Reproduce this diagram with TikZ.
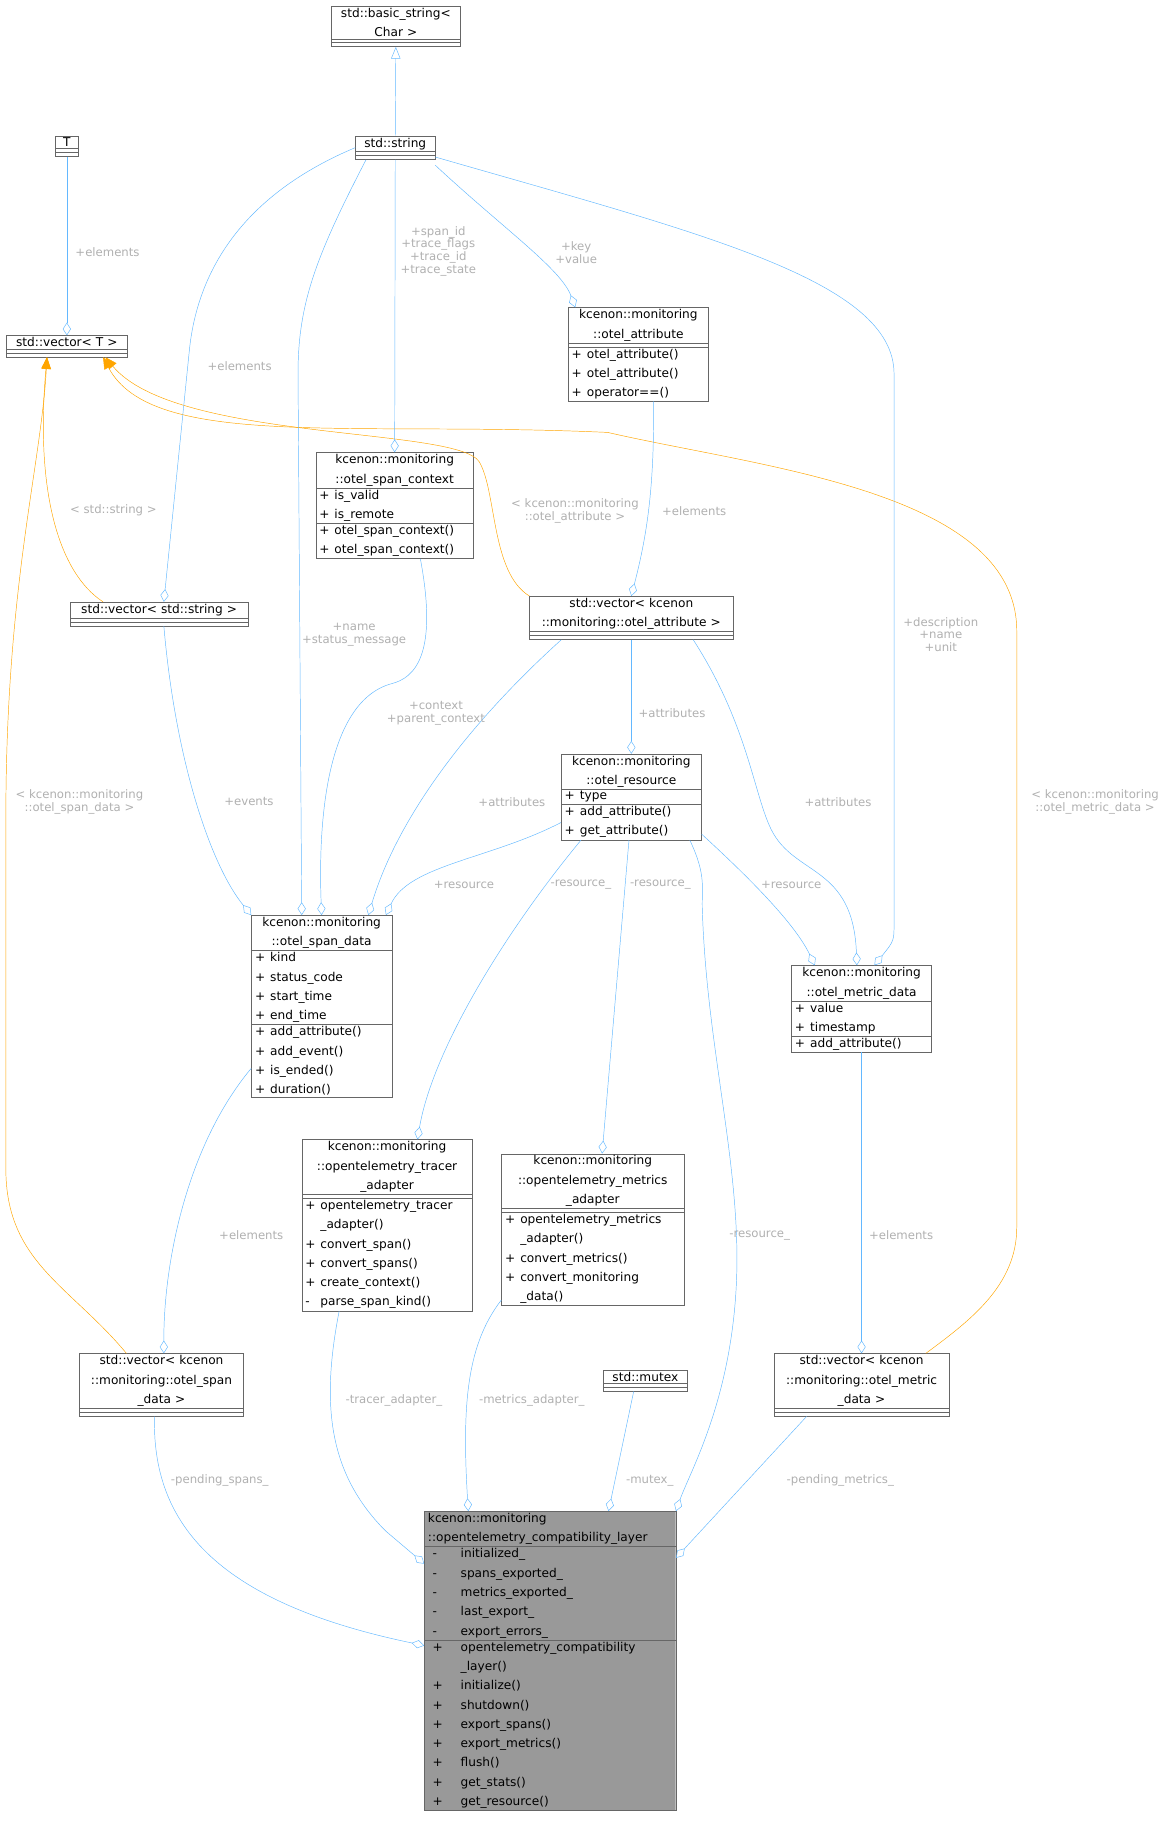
\documentclass[tikz,border=0pt]{standalone}
\usepackage{fontspec}
\setmainfont{DejaVu Sans}
\usetikzlibrary{shapes.multipart,arrows.meta}
\definecolor{edgeblue}{HTML}{63B8FF}
\definecolor{edgeorange}{HTML}{FFA500}
\definecolor{lblgray}{HTML}{B0B0B0}
\newcommand{\mb}[2]{\makebox[13pt][l]{#1}#2\par}
\newcommand{\mw}[2]{\makebox[28pt][l]{\hspace{4pt}#1}#2\par}
\newcommand{\ttl}[1]{\centering #1\par}
\tikzset{
  cls/.style={rectangle split, rectangle split parts=3, draw=gray!80!black, fill=white,
    font=\fontsize{10.4}{16.5}\selectfont, inner xsep=3pt, inner ysep=1.5pt, anchor=north west,
    rectangle split empty part height=10pt},
  agg/.style={draw=edgeblue, -{Diamond[open,length=11pt,width=7pt]}},
  inh/.style={draw=edgeblue, -{Triangle[open,length=10pt,width=8pt]}},
  tmpl/.style={draw=edgeorange, -{Triangle[length=10pt,width=8pt]}},
  lbl/.style={font=\fontsize{10}{11}\selectfont, text=lblgray, align=center, inner sep=1pt}
}
\begin{document}
\begin{tikzpicture}[x=1pt,y=-1pt]
\useasboundingbox (0,0) rectangle (1000,1565);
% classes
\node[cls, text width=105pt] (basicstr) at (283,5) {\ttl{std::basic\_string<\\Char >}\nodepart{two}\nodepart{three}};
\node[cls, text width=62pt] (str) at (304,116) {\ttl{std::string}\nodepart{two}\nodepart{three}};
\node[cls, text width=14pt] (T) at (47,116) {\ttl{T}\nodepart{two}\nodepart{three}};
\node[cls, text width=98pt] (vecT) at (5,287) {\ttl{std::vector< T >}\nodepart{two}\nodepart{three}};
\node[cls, text width=114pt] (attr) at (486,263) {\ttl{kcenon::monitoring\\::otel\_attribute}\nodepart{two}\nodepart{three}\raggedright
  \mb{+}{otel\_attribute()}\mb{+}{otel\_attribute()}\mb{+}{operator==()}};
\node[cls, text width=129pt] (spanctx) at (270,387) {\ttl{kcenon::monitoring\\::otel\_span\_context}\nodepart{two}\raggedright
  \mb{+}{is\_valid}\mb{+}{is\_remote}\nodepart{three}\raggedright
  \mb{+}{otel\_span\_context()}\mb{+}{otel\_span\_context()}};
\node[cls, text width=146pt] (vecstr) at (60,515) {\ttl{std::vector< std::string >}\nodepart{two}\nodepart{three}};
\node[cls, text width=168pt] (vecattr) at (453,510) {\ttl{std::vector< kcenon\\::monitoring::otel\_attribute >}\nodepart{two}\nodepart{three}};
\node[cls, text width=114pt] (res) at (480,645) {\ttl{kcenon::monitoring\\::otel\_resource}\nodepart{two}\raggedright
  \mb{+}{type}\nodepart{three}\raggedright
  \mb{+}{add\_attribute()}\mb{+}{get\_attribute()}};
\node[cls, text width=114pt] (spandata) at (215,783) {\ttl{kcenon::monitoring\\::otel\_span\_data}\nodepart{two}\raggedright
  \mb{+}{kind}\mb{+}{status\_code}\mb{+}{start\_time}\mb{+}{end\_time}\nodepart{three}\raggedright
  \mb{+}{add\_attribute()}\mb{+}{add\_event()}\mb{+}{is\_ended()}\mb{+}{duration()}};
\node[cls, text width=114pt] (metricdata) at (677,826) {\ttl{kcenon::monitoring\\::otel\_metric\_data}\nodepart{two}\raggedright
  \mb{+}{value}\mb{+}{timestamp}\nodepart{three}\raggedright
  \mb{+}{add\_attribute()}};
\node[cls, text width=140pt] (tracer) at (258,975) {\ttl{kcenon::monitoring\\::opentelemetry\_tracer\\\_adapter}\nodepart{two}\nodepart{three}\raggedright
  \mb{+}{opentelemetry\_tracer\\\hspace*{13pt}\_adapter()}\mb{+}{convert\_span()}\mb{+}{convert\_spans()}\mb{+}{create\_context()}\mb{-}{parse\_span\_kind()}};
\node[cls, text width=150pt] (metrics) at (429,987) {\ttl{kcenon::monitoring\\::opentelemetry\_metrics\\\_adapter}\nodepart{two}\nodepart{three}\raggedright
  \mb{+}{opentelemetry\_metrics\\\hspace*{13pt}\_adapter()}\mb{+}{convert\_metrics()}\mb{+}{convert\_monitoring\\\hspace*{13pt}\_data()}};
\node[cls, text width=134pt] (vecspan) at (68,1158) {\ttl{std::vector< kcenon\\::monitoring::otel\_span\\\_data >}\nodepart{two}\nodepart{three}};
\node[cls, text width=66pt] (mutex) at (516,1172) {\ttl{std::mutex}\nodepart{two}\nodepart{three}};
\node[cls, text width=144pt] (vecmetric) at (662,1158) {\ttl{std::vector< kcenon\\::monitoring::otel\_metric\\\_data >}\nodepart{two}\nodepart{three}};
\node[cls, fill=gray!80, text width=209pt] (layer) at (363,1293) {\raggedright kcenon::monitoring\\::opentelemetry\_compatibility\_layer\par\nodepart{two}\raggedright
  \mw{-}{initialized\_}\mw{-}{spans\_exported\_}\mw{-}{metrics\_exported\_}\mw{-}{last\_export\_}\mw{-}{export\_errors\_}\nodepart{three}\raggedright
  \mw{+}{opentelemetry\_compatibility\\\hspace*{28pt}\_layer()}\mw{+}{initialize()}\mw{+}{shutdown()}\mw{+}{export\_spans()}\mw{+}{export\_metrics()}\mw{+}{flush()}\mw{+}{get\_stats()}\mw{+}{get\_resource()}};

% template instances
\draw[tmpl] ([xshift=-48pt]vecstr.north) .. controls (50,490) and (30,420) .. ([xshift=-17pt]vecT.south);
\draw[tmpl] (vecattr.north west) .. controls (420,490) and (425,420) .. (410,395) .. controls (390,365) and (150,378) .. ([xshift=33pt]vecT.south);
\draw[tmpl] ([xshift=-30pt]vecspan.north) .. controls (60,1100) and (5,1080) .. (5,1000) -- (5,700) .. controls (5,500) and (35,400) .. ([xshift=-17pt]vecT.south);
\draw[tmpl] ([xshift=55pt]vecmetric.north) .. controls (830,1130) and (870,1100) .. (870,1050) -- (870,540) .. controls (870,420) and (650,400) .. (520,370) .. controls (300,360) and (130,385) .. ([xshift=31pt]vecT.south);
\node[lbl] (l1) at (97,437) {< std::string >};
\node[lbl] (l2) at (492,437) {< kcenon::monitoring\\::otel\_attribute >};
\node[lbl] (l3) at (68,686) {< kcenon::monitoring\\::otel\_span\_data >};
\node[lbl] (l4) at (937,686) {< kcenon::monitoring\\::otel\_metric\_data >};

% inheritance and members
\draw[inh] (str.north) -- (basicstr.south);
\draw[agg] (T.south) -- (vecT.north);
\draw[agg] (str.west) .. controls (200,170) and (168,240) .. (162,300) -- ([xshift=4pt]vecstr.north);
\draw[agg] (str.south) -- (spanctx.north);
\draw[agg] ([yshift=-15pt]str.east) .. controls (430,195) and (480,230) .. ([xshift=-54pt]attr.north);
\draw[agg] ([yshift=-8pt]str.east) .. controls (600,200) and (765,240) .. (765,320) -- (765,790) .. controls (765,805) .. ([xshift=11pt]metricdata.north);
\draw[agg] ([xshift=-25pt]str.south) .. controls (270,220) and (255,260) .. (255,320) -- ([xshift=-17pt]spandata.north);
\draw[agg] ([xshift=13pt]attr.south) .. controls (560,420) and (553,460) .. (vecattr.north);
\draw[agg] (vecattr.south) -- (res.north);
\draw[agg] ([xshift=-60pt]vecattr.south) .. controls (400,620) and (340,700) .. ([xshift=40pt]spandata.north);
\draw[agg] ([xshift=53pt]vecattr.south) .. controls (640,620) and (645,680) .. (660,710) .. controls (680,750) and (730,740) .. ([xshift=-4pt]metricdata.north);
\draw[agg] ([xshift=22pt]spanctx.south) .. controls (375,560) and (355,580) .. (335,585) .. controls (280,600) and (272,700) .. (spandata.north);
\draw[agg] ([xshift=4pt]vecstr.south) .. controls (150,650) and (180,740) .. (spandata.north west);
\draw[agg] ([yshift=15pt]res.south west) .. controls (420,735) and (350,740) .. ([xshift=55pt]spandata.north);
\draw[agg] ([yshift=5pt]res.south east) .. controls (640,750) and (680,790) .. ([xshift=-40pt]metricdata.north);
\draw[agg] ([xshift=-43pt]res.south) .. controls (430,800) and (370,900) .. ([xshift=26pt]tracer.north);
\draw[agg] ([xshift=-2pt]res.south) -- ([xshift=8pt]metrics.north);
\draw[agg] ([xshift=50pt]res.south) .. controls (605,750) and (600,760) .. (601,780) .. controls (605,900) and (635,1000) .. (630,1100) .. controls (625,1200) and (590,1260) .. (layer.north east);
\draw[agg] ([yshift=25pt]spandata.south west) .. controls (160,980) and (140,1080) .. ([xshift=2pt]vecspan.north);
\draw[agg] (metricdata.south) -- (vecmetric.north);
\draw[agg] ([xshift=-41pt]tracer.south) .. controls (275,1200) and (280,1260) .. (330,1310) -- ([yshift=-45pt]layer.north west);
\draw[agg] ([yshift=5pt]metrics.south west) .. controls (400,1150) and (395,1200) .. ([xshift=-70pt]layer.north);
\draw[agg] ([xshift=-10pt]mutex.south) -- ([xshift=50pt]layer.north);
\draw[agg] ([xshift=-47pt]vecmetric.south) -- ([yshift=-40pt]layer.north east);
\draw[agg] ([xshift=-6pt]vecspan.south) .. controls (130,1300) and (180,1370) .. ([yshift=-115pt]layer.north west);

% member labels
\node[lbl] (m1) at (92,216) {+elements};
\node[lbl] (m2) at (205,313) {+elements};
\node[lbl] (m3) at (375,215) {+span\_id\\+trace\_flags\\+trace\_id\\+trace\_state};
\node[lbl] (m4) at (493,216) {+key\\+value};
\node[lbl] (m5) at (805,543) {+description\\+name\\+unit};
\node[lbl] (m6) at (303,543) {+name\\+status\_message};
\node[lbl] (m7) at (594,437) {+elements};
\node[lbl] (m8) at (575,610) {+attributes};
\node[lbl] (m9) at (438,686) {+attributes};
\node[lbl] (m10) at (717,686) {+attributes};
\node[lbl] (m11) at (373,610) {+context\\+parent\_context};
\node[lbl] (m12) at (213,686) {+events};
\node[lbl] (m13) at (397,757) {+resource};
\node[lbl] (m14) at (677,757) {+resource};
\node[lbl] (m15) at (497,757) {-resource\_};
\node[lbl] (m16) at (565,757) {-resource\_};
\node[lbl] (m17) at (650,1057) {-resource\_};
\node[lbl] (m18) at (215,1057) {+elements};
\node[lbl] (m19) at (771,1057) {+elements};
\node[lbl] (m20) at (337,1198) {-tracer\_adapter\_};
\node[lbl] (m21) at (455,1198) {-metrics\_adapter\_};
\node[lbl] (m22) at (556,1267) {-mutex\_};
\node[lbl] (m23) at (719,1267) {-pending\_metrics\_};
\node[lbl] (m24) at (188,1267) {-pending\_spans\_};
\end{tikzpicture}
\end{document}
